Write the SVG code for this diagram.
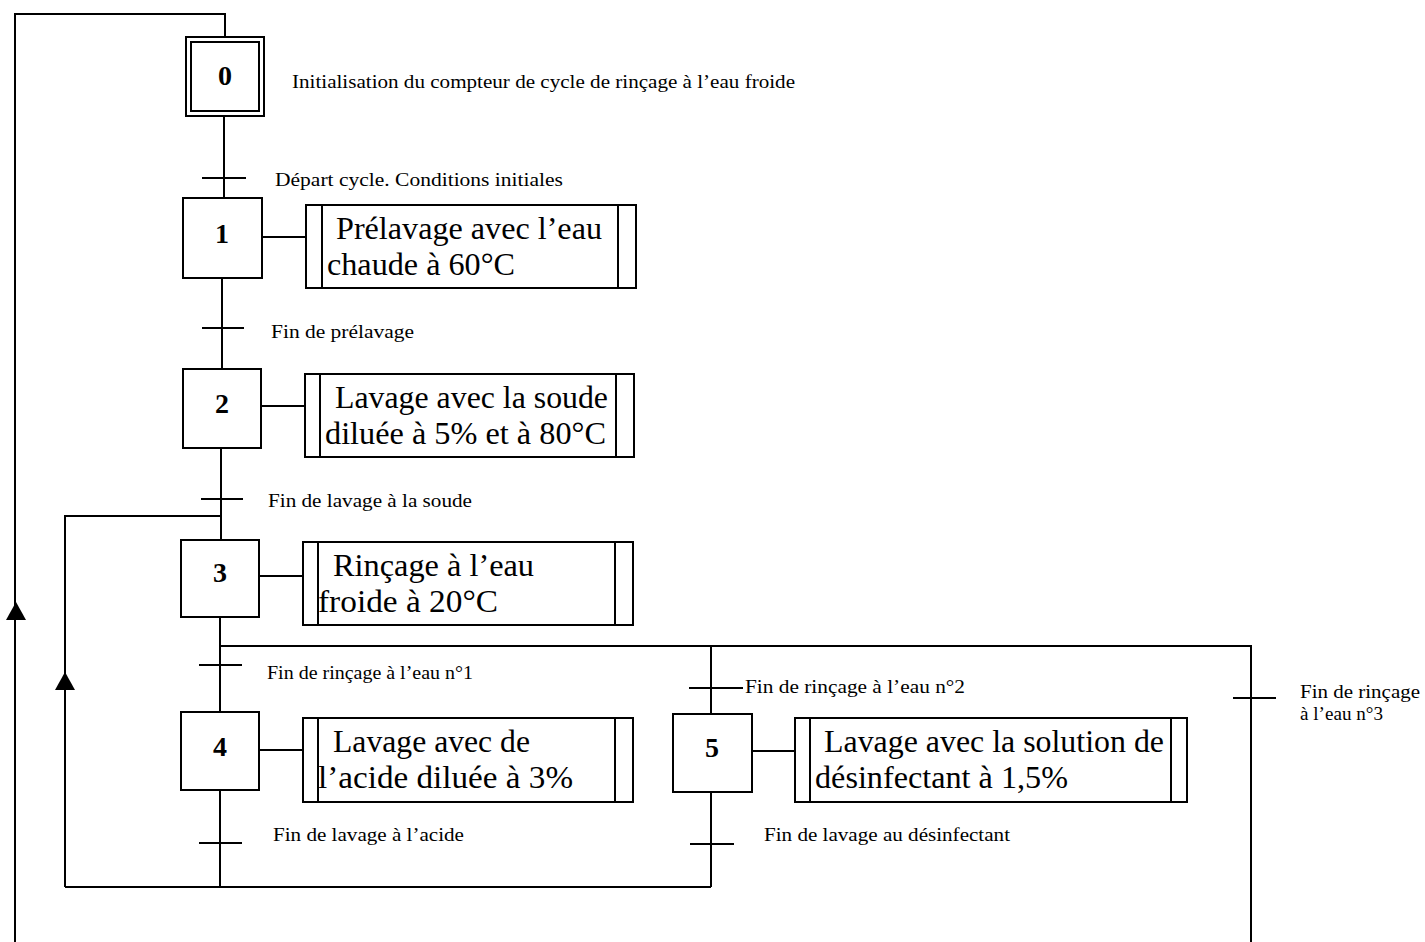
<svg xmlns="http://www.w3.org/2000/svg" width="1425" height="942" viewBox="0 0 1425 942">
<defs>
<style>
.ln{stroke:#000;stroke-width:2;fill:none}
.box{stroke:#000;stroke-width:2;fill:#fff}
.num{font-family:"Liberation Serif",serif;font-weight:bold;font-size:28px;text-anchor:middle}
.big{font-family:"Liberation Serif",serif;font-size:31px}
.lbl{font-family:"Liberation Serif",serif;font-size:18px}
.arr{fill:#000}
</style>
</defs>
<rect width="1425" height="942" fill="#fff"/>
<g id="connectors">
<path class="ln" d="M15,942 V14 H225 V37"/>
<path class="arr" d="M6,620 L16,602 L26,620 Z"/>
<path class="ln" d="M65,887 V516 H221"/>
<path class="arr" d="M55,690 L65,672 L75,690 Z"/>
<line class="ln" x1="224" y1="117" x2="224" y2="198"/>
<line class="ln" x1="222" y1="278" x2="222" y2="369"/>
<line class="ln" x1="221" y1="448" x2="221" y2="540"/>
<line class="ln" x1="220" y1="617" x2="220" y2="712"/>
<line class="ln" x1="220" y1="790" x2="220" y2="887"/>
<path class="ln" d="M220,646 H1251 V942"/>
<line class="ln" x1="711" y1="646" x2="711" y2="714"/>
<line class="ln" x1="711" y1="792" x2="711" y2="887"/>
<line class="ln" x1="65" y1="887" x2="711" y2="887"/>
<line class="ln" x1="202" y1="178" x2="246" y2="178"/>
<line class="ln" x1="202" y1="328" x2="244" y2="328"/>
<line class="ln" x1="201" y1="499" x2="243" y2="499"/>
<line class="ln" x1="199" y1="665" x2="242" y2="665"/>
<line class="ln" x1="689" y1="688" x2="743" y2="688"/>
<line class="ln" x1="1233" y1="698" x2="1276" y2="698"/>
<line class="ln" x1="199" y1="843" x2="242" y2="843"/>
<line class="ln" x1="690" y1="844" x2="734" y2="844"/>
<line class="ln" x1="262" y1="237" x2="306" y2="237"/>
<line class="ln" x1="261" y1="406" x2="305" y2="406"/>
<line class="ln" x1="259" y1="576" x2="303" y2="576"/>
<line class="ln" x1="259" y1="750" x2="303" y2="750"/>
<line class="ln" x1="752" y1="751" x2="795" y2="751"/>
</g>
<g id="step0">
<rect class="box" x="186" y="37" width="78" height="79"/>
<rect class="ln" x="191" y="42" width="68" height="69"/>
<text class="num" x="225" y="85">0</text>
<text class="lbl" x="292" y="88" textLength="503" lengthAdjust="spacingAndGlyphs">Initialisation du compteur de cycle de rinçage à l’eau froide</text>
</g>
<g id="t01"><text class="lbl" x="275" y="186" textLength="288" lengthAdjust="spacingAndGlyphs">Départ cycle.  Conditions initiales</text></g>
<g id="step1">
<rect class="box" x="183" y="198" width="79" height="80"/>
<text class="num" x="222" y="243">1</text>
</g>
<g id="action1">
<rect class="box" x="306" y="205" width="330" height="83"/>
<line class="ln" x1="322" y1="205" x2="322" y2="288"/>
<line class="ln" x1="618" y1="205" x2="618" y2="288"/>
<text class="big" x="336" y="239" textLength="266" lengthAdjust="spacingAndGlyphs">Prélavage avec l’eau</text>
<text class="big" x="327" y="275" textLength="188" lengthAdjust="spacingAndGlyphs">chaude à 60°C</text>
</g>
<g id="t12"><text class="lbl" x="271" y="338" textLength="143" lengthAdjust="spacingAndGlyphs">Fin de prélavage</text></g>
<g id="step2">
<rect class="box" x="183" y="369" width="78" height="79"/>
<text class="num" x="222" y="413">2</text>
</g>
<g id="action2">
<rect class="box" x="305" y="374" width="329" height="83"/>
<line class="ln" x1="320" y1="374" x2="320" y2="457"/>
<line class="ln" x1="616" y1="374" x2="616" y2="457"/>
<text class="big" x="335" y="408" textLength="273" lengthAdjust="spacingAndGlyphs">Lavage avec la soude</text>
<text class="big" x="325" y="444" textLength="281" lengthAdjust="spacingAndGlyphs">diluée à 5% et à 80°C</text>
</g>
<g id="t23"><text class="lbl" x="268" y="507" textLength="204" lengthAdjust="spacingAndGlyphs">Fin de lavage à la soude</text></g>
<g id="step3">
<rect class="box" x="181" y="540" width="78" height="77"/>
<text class="num" x="220" y="582">3</text>
</g>
<g id="action3">
<rect class="box" x="303" y="542" width="330" height="83"/>
<line class="ln" x1="318" y1="542" x2="318" y2="625"/>
<line class="ln" x1="615" y1="542" x2="615" y2="625"/>
<text class="big" x="333" y="576" textLength="201" lengthAdjust="spacingAndGlyphs">Rinçage à l’eau</text>
<text class="big" x="318" y="612" textLength="180" lengthAdjust="spacingAndGlyphs">froide à 20°C</text>
</g>
<g id="t34"><text class="lbl" x="267" y="679" textLength="206" lengthAdjust="spacingAndGlyphs">Fin de rinçage à l’eau n°1</text></g>
<g id="t35"><text class="lbl" x="745" y="693" textLength="220" lengthAdjust="spacingAndGlyphs">Fin de rinçage à l’eau n°2</text></g>
<g id="t30">
<text class="lbl" x="1300" y="698" textLength="120" lengthAdjust="spacingAndGlyphs">Fin de rinçage</text>
<text class="lbl" x="1300" y="720" textLength="83" lengthAdjust="spacingAndGlyphs">à l’eau n°3</text>
</g>
<g id="step4">
<rect class="box" x="181" y="712" width="78" height="78"/>
<text class="num" x="220" y="756">4</text>
</g>
<g id="action4">
<rect class="box" x="303" y="718" width="330" height="84"/>
<line class="ln" x1="318" y1="718" x2="318" y2="802"/>
<line class="ln" x1="615" y1="718" x2="615" y2="802"/>
<text class="big" x="333" y="752" textLength="197" lengthAdjust="spacingAndGlyphs">Lavage avec de</text>
<text class="big" x="318" y="788" textLength="255" lengthAdjust="spacingAndGlyphs">l’acide diluée à 3%</text>
</g>
<g id="t4"><text class="lbl" x="273" y="841" textLength="191" lengthAdjust="spacingAndGlyphs">Fin de lavage à l’acide</text></g>
<g id="step5">
<rect class="box" x="673" y="714" width="79" height="78"/>
<text class="num" x="712" y="757">5</text>
</g>
<g id="action5">
<rect class="box" x="795" y="718" width="392" height="84"/>
<line class="ln" x1="810" y1="718" x2="810" y2="802"/>
<line class="ln" x1="1171" y1="718" x2="1171" y2="802"/>
<text class="big" x="824" y="752" textLength="340" lengthAdjust="spacingAndGlyphs">Lavage avec la solution de</text>
<text class="big" x="815" y="788" textLength="253" lengthAdjust="spacingAndGlyphs">désinfectant à 1,5%</text>
</g>
<g id="t5"><text class="lbl" x="764" y="841" textLength="246" lengthAdjust="spacingAndGlyphs">Fin de lavage au désinfectant</text></g>
</svg>
